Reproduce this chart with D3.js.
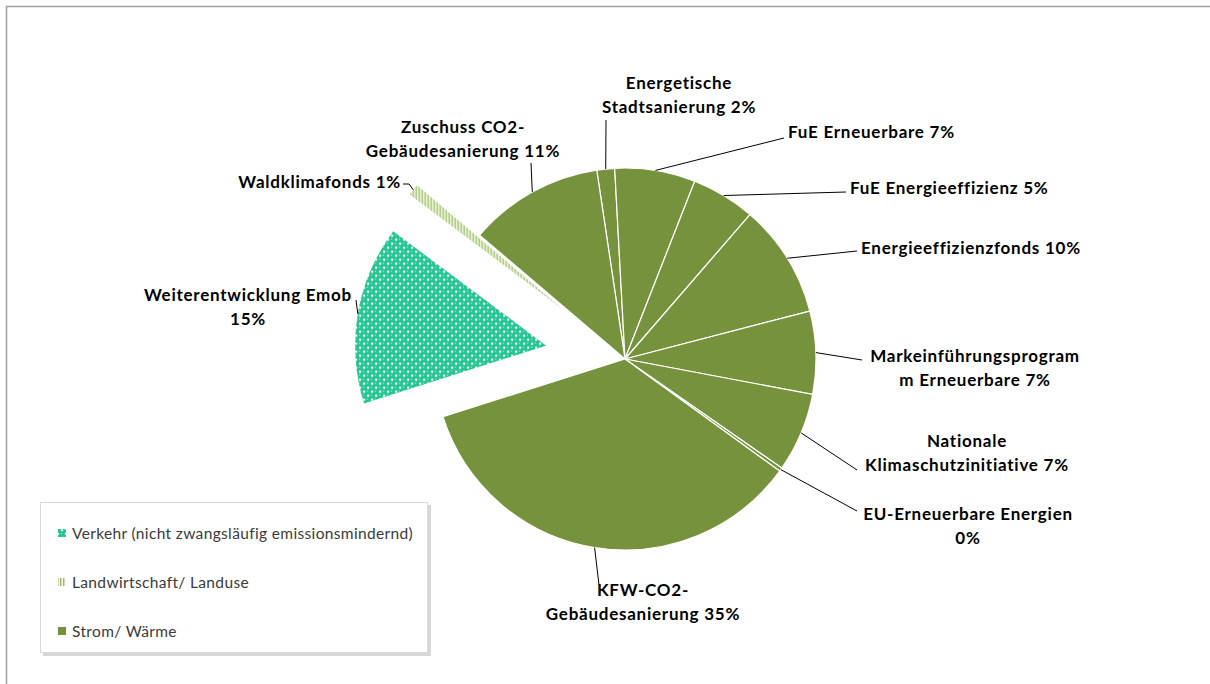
<!DOCTYPE html>
<html>
<head>
<meta charset="utf-8">
<script src="https://cdn.jsdelivr.net/npm/d3@7"></script>
<style>
  body { margin: 0; background: #fff; }
  svg { display: block; }
</style>
</head>
<body>
<script>
var width = 1210, height = 684;

// slices, clockwise from the top
var names = ["Energetische Stadtsanierung", "FuE Erneuerbare", "FuE Energieeffizienz",
  "Energieeffizienzfonds", "Markeinführungsprogramm Erneuerbare", "Nationale Klimaschutzinitiative",
  "EU-Erneuerbare Energien", "KFW-CO2-Gebäudesanierung", "Weiterentwicklung Emob",
  "Waldklimafonds", "Zuschuss CO2-Gebäudesanierung"];
var values = [1.5, 6.8, 5.4, 9.6, 7.0, 6.7, 0.3, 35.1, 15.1, 1.0, 11.4];
var groupOf = ["Strom", "Strom", "Strom", "Strom", "Strom", "Strom", "Strom", "Strom",
  "Verkehr", "Land", "Strom"];
var groups = ["Verkehr", "Land", "Strom"];
var groupNames = ["Verkehr (nicht zwangsläufig emissionsmindernd)", "Landwirtschaft/ Landuse", "Strom/ Wärme"];

// label wrapping as in the original ({p} = percentage)
var labelLines = [
  ["Energetische", "Stadtsanierung {p}"],
  ["FuE Erneuerbare {p}"],
  ["FuE Energieeffizienz {p}"],
  ["Energieeffizienzfonds {p}"],
  ["Markeinführungsprogram", "m Erneuerbare {p}"],
  ["Nationale", "Klimaschutzinitiative {p}"],
  ["EU-Erneuerbare Energien", "{p}"],
  ["KFW-CO2-", "Gebäudesanierung {p}"],
  ["Weiterentwicklung Emob", "{p}"],
  ["Waldklimafonds {p}"],
  ["Zuschuss CO2-", "Gebäudesanierung {p}"]
];

// label placement (first line centre) and leader bends
var labelPos = [
  {x: 679, y: 82, anchor: "middle", leader: [[606, 120]]},
  {x: 788, y: 131, anchor: "start", leader: [[784, 138]]},
  {x: 850, y: 187, anchor: "start", leader: [[846, 192]]},
  {x: 861, y: 247, anchor: "start", leader: [[857, 251]]},
  {x: 975, y: 355, anchor: "middle", leader: [[862, 360]]},
  {x: 967, y: 440, anchor: "middle", leader: [[857, 470]]},
  {x: 968, y: 513, anchor: "middle", leader: [[857, 511]]},
  {x: 643, y: 589, anchor: "middle", leader: [[599, 585]]},
  {x: 248, y: 294, anchor: "middle", leader: [[356, 300]]},
  {x: 401, y: 181, anchor: "end", leader: [[409, 184], [403, 184]]},
  {x: 463, y: 126, anchor: "middle", leader: [[531, 163]]}
];

var cx = 625, cy = 359, radius = 191;
var explode = {"Weiterentwicklung Emob": 80, "Waldklimafonds": 80};
var green = "#77923c", teal = "#1ec995", stripe = "#9dbd5f";

var svg = d3.select('body').append('svg').attr('width', width).attr('height', height);
var defs = svg.append('defs');

// sphere pattern
var pSph = defs.append('pattern').attr('id', 'sph').attr('patternUnits', 'userSpaceOnUse')
  .attr('width', 8).attr('height', 8);
pSph.append('rect').attr('width', 8).attr('height', 8).attr('fill', '#fff');
[[2, 2], [6, 6], [6, -2], [-2, 6], [10, 2], [2, 10]].forEach(function(c) {
  pSph.append('circle').attr('cx', c[0]).attr('cy', c[1]).attr('r', 2.75)
    .attr('fill', teal).attr('stroke', '#10a877').attr('stroke-width', 0.5);
});
[[2, 2], [6, 6]].forEach(function(c) {
  pSph.append('circle').attr('cx', c[0] - 0.6).attr('cy', c[1] - 0.6).attr('r', 0.6).attr('fill', '#a5f0d8');
});

// vertical stripe pattern
var pStr = defs.append('pattern').attr('id', 'vstr').attr('patternUnits', 'userSpaceOnUse')
  .attr('width', 3).attr('height', 3);
pStr.append('rect').attr('width', 3).attr('height', 3).attr('fill', '#fff');
pStr.append('rect').attr('width', 1.5).attr('height', 3).attr('fill', stripe);

var fills = {Verkehr: "url(#sph)", Land: "url(#vstr)", Strom: green};

// frame
svg.append('path').attr('d', 'M6.5,' + height + 'V6.5H' + width)
  .attr('fill', 'none').attr('stroke', '#a0a0a0').attr('stroke-width', 1.5);

var start = -8.5 * Math.PI / 180;
var pie = d3.pie().sort(null).value(function(d) { return d; })
  .startAngle(start).endAngle(start + 2 * Math.PI);
var arcs = pie(values);
var total = d3.sum(values);
var arc = d3.arc().innerRadius(0).outerRadius(radius);

function offsetOf(d) {
  var e = explode[names[d.index]] || 0;
  var a = (d.startAngle + d.endAngle) / 2;
  return [e * Math.sin(a), -e * Math.cos(a)];
}

var g = svg.append('g').attr('transform', 'translate(' + cx + ',' + cy + ')');
g.selectAll('path.slice')
  .data(arcs)
  .join('path')
  .attr('class', 'slice')
  .attr('d', arc)
  .attr('transform', function(d) { var o = offsetOf(d); return 'translate(' + o[0] + ',' + o[1] + ')'; })
  .attr('fill', function(d) { return fills[groupOf[d.index]]; })
  .attr('stroke', function(d) { return groupOf[d.index] === "Strom" ? '#fff' : 'none'; })
  .attr('stroke-width', 1.2);

// leader lines
var line = d3.line();
svg.selectAll('path.leader')
  .data(arcs)
  .join('path')
  .attr('class', 'leader')
  .attr('d', function(d) {
    var a = (d.startAngle + d.endAngle) / 2, o = offsetOf(d);
    var p0 = [cx + o[0] + radius * Math.sin(a), cy + o[1] - radius * Math.cos(a)];
    return line([p0].concat(labelPos[d.index].leader));
  })
  .attr('fill', 'none').attr('stroke', '#000').attr('stroke-width', 1);

// labels
svg.selectAll('text.lbl')
  .data(arcs)
  .join('text')
  .attr('class', 'lbl')
  .attr('font-family', 'Lato, sans-serif')
  .attr('font-weight', 'bold')
  .attr('font-size', 17)
  .attr('letter-spacing', 0.75)
  .attr('fill', '#000')
  .attr('text-anchor', function(d) { return labelPos[d.index].anchor; })
  .each(function(d) {
    var pct = Math.round(d.data / total * 100) + '%';
    var t = d3.select(this), pos = labelPos[d.index];
    labelLines[d.index].forEach(function(s, i) {
      t.append('tspan').attr('x', pos.x).attr('y', pos.y + i * 24)
        .attr('dominant-baseline', 'central').text(s.replace('{p}', pct));
    });
  });

// legend
var lg = svg.append('g');
lg.append('rect').attr('x', 43).attr('y', 505).attr('width', 388).attr('height', 151)
  .attr('fill', '#bdbdbd').attr('opacity', 0.6);
lg.append('rect').attr('x', 40.5).attr('y', 502.5).attr('width', 387).attr('height', 150)
  .attr('fill', '#fff').attr('stroke', '#d9d9d9');
var legendY = d3.scalePoint().domain(groups).range([533, 631]);
lg.selectAll('rect.key')
  .data(groups)
  .join('rect')
  .attr('class', 'key')
  .attr('x', 58).attr('y', function(d) { return legendY(d) - 4; })
  .attr('width', 8).attr('height', 8)
  .attr('fill', function(d) { return fills[d]; });
lg.selectAll('text')
  .data(groups)
  .join('text')
  .attr('x', 72).attr('y', function(d) { return legendY(d); })
  .attr('dominant-baseline', 'central')
  .attr('font-family', 'Lato, sans-serif')
  .attr('font-size', 15.5)
  .attr('letter-spacing', 0.35)
  .attr('fill', '#3a3a3a')
  .text(function(d, i) { return groupNames[i]; });
</script>
</body>
</html>
